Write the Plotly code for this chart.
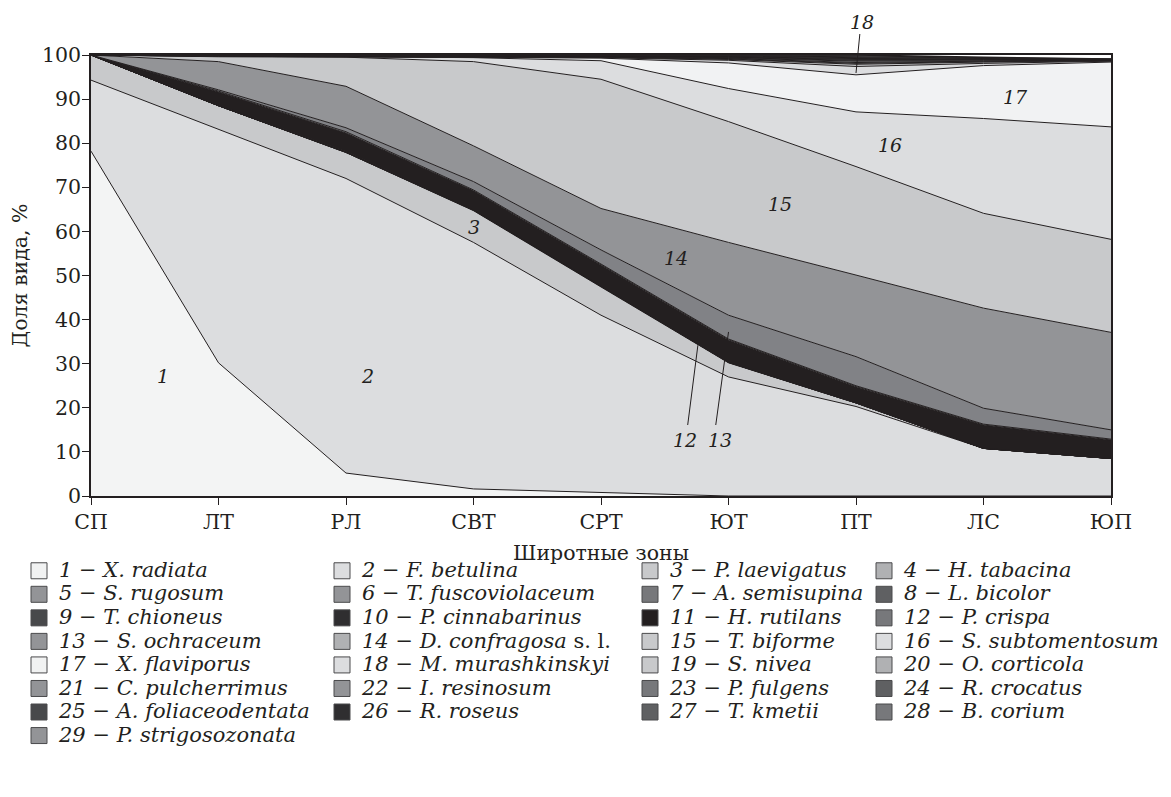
import plotly.graph_objects as go

zones = ["СП", "ЛТ", "РЛ", "СВТ", "СРТ", "ЮТ", "ПТ", "ЛС", "ЮП"]

species = [
    "X. radiata", "F. betulina", "P. laevigatus", "H. tabacina", "S. rugosum",
    "T. fuscoviolaceum", "A. semisupina", "L. bicolor", "T. chioneus",
    "P. cinnabarinus", "H. rutilans", "P. crispa", "S. ochraceum",
    "D. confragosa s. l.", "T. biforme", "S. subtomentosum", "X. flaviporus",
    "M. murashkinskyi", "S. nivea", "O. corticola", "C. pulcherrimus",
    "I. resinosum", "P. fulgens", "R. crocatus", "A. foliaceodentata",
    "R. roseus", "T. kmetii", "B. corium", "P. strigosozonata",
]

# shares (%) of each species by latitudinal zone
s1 = [78.2, 30.2, 5.2, 1.6, 0.8, 0, 0, 0, 0]
s2 = [16.1, 53.0, 66.8, 55.9, 40.2, 27.0, 20.3, 10.8, 8.5]
s3 = [5.7, 5.3, 5.9, 7.2, 6.4, 3.2, 0.8, 0, 0]
s4 = [0, 0, 0, 0.1, 0.1, 0.1, 0, 0, 0]
s5 = [0, 0, 0, 0, 0.1, 0, 0, 0, 0]
s6 = [0, 0, 0.1, 0.1, 0, 0, 0, 0, 0]
s7 = [0, 0, 0, 0, 0, 0.1, 0.1, 0, 0]
s8 = [0, 0, 0, 0, 0, 0, 0, 0, 0]
s9 = [0, 0, 0, 0, 0, 0, 0, 0, 0]
s10 = [0, 0.1, 0.1, 0, 0, 0, 0, 0, 0]
s11 = [0, 3.0, 4.2, 4.3, 4.8, 5.0, 3.6, 5.3, 4.2]
s12 = [0, 0.2, 0.3, 0.2, 0.2, 0.2, 0.2, 0.2, 0.2]
s13 = [0, 0.3, 0.9, 1.9, 3.2, 5.4, 6.6, 3.6, 2.1]
s14 = [0, 6.4, 9.4, 8.1, 9.4, 16.5, 18.5, 22.7, 22.1]
s15 = [0, 1.1, 6.6, 19.1, 29.3, 27.4, 24.6, 21.5, 21.1]
s16 = [0, 0.1, 0.1, 0.9, 4.2, 7.5, 12.4, 21.5, 25.5]
s17 = [0, 0, 0, 0.1, 0.6, 5.8, 8.4, 12.0, 14.7]
s18 = [0, 0, 0, 0, 0.1, 0.6, 1.9, 0.5, 0.2]
s19 = [0, 0.05, 0.05, 0.06, 0.08, 0.2, 0.5, 0.3, 0.05]
s20 = [0, 0.03, 0.04, 0.05, 0.05, 0.1, 0.2, 0.1, 0.05]
s21 = [0, 0.02, 0.03, 0.04, 0.05, 0.1, 0.2, 0.1, 0.05]
s22 = [0, 0.02, 0.04, 0.05, 0.06, 0.1, 0.3, 0.1, 0.05]
s23 = [0, 0.03, 0.04, 0.04, 0.05, 0.1, 0.2, 0.2, 0.05]
s24 = [0, 0.02, 0.03, 0.05, 0.05, 0.1, 0.2, 0.1, 0.05]
s25 = [0, 0.03, 0.04, 0.04, 0.06, 0.1, 0.2, 0.1, 0.05]
s26 = [0, 0.02, 0.03, 0.05, 0.05, 0.1, 0.2, 0.1, 0.05]
s27 = [0, 0.03, 0.04, 0.04, 0.05, 0.1, 0.2, 0.1, 0.05]
s28 = [0, 0.02, 0.03, 0.04, 0.05, 0.1, 0.2, 0.1, 0.05]
s29 = [0, 0.03, 0.03, 0.04, 0.05, 0.1, 0.2, 0.1, 0]

series = [s1, s2, s3, s4, s5, s6, s7, s8, s9, s10, s11, s12, s13, s14, s15,
          s16, s17, s18, s19, s20, s21, s22, s23, s24, s25, s26, s27, s28, s29]

fill_colors = [
    "#f3f4f4", "#dcdddf", "#c8c9cb", "#b0b1b3", "#939497", "#8f9093", "#77787b",
    "#5f6062", "#48494b", "#2f2e30", "#231f20", "#77787b", "#818286", "#939497",
    "#c8c9cb", "#dcdddf", "#f1f2f3", "#dcdddf", "#c8c9cb", "#b0b1b3", "#939497",
    "#939497", "#77787b", "#5f6062", "#48494b", "#2f2e30", "#5f6062", "#77787b",
    "#939497",
]
legend_colors = [
    "#f1f2f2", "#dcdddf", "#c8c9cb", "#b0b1b3", "#939497", "#939497", "#77787b",
    "#5f6062", "#48494b", "#2f2e30", "#231f20", "#77787b", "#939497", "#b0b1b3",
    "#c8c9cb", "#dcdddf", "#f1f2f2", "#dcdddf", "#c8c9cb", "#b0b1b3", "#939497",
    "#939497", "#77787b", "#5f6062", "#48494b", "#2f2e30", "#5f6062", "#77787b",
    "#939497",
]

INK = "#231f20"
SERIF = "DejaVu Serif"

fig = go.Figure()

for i, vals in enumerate(series):
    fig.add_trace(go.Scatter(
        x=zones, y=vals, mode="lines", stackgroup="one",
        line=dict(color=INK, width=1.5 if i == len(series) - 1 else 1),
        fillcolor=fill_colors[i], showlegend=False, hoverinfo="skip",
        name=species[i],
    ))

LEG_TEXT = 'style="font-size:21px"'
legend_names = ["legend", "legend2", "legend3", "legend4"]
for i, name in enumerate(species):
    k = i + 1
    if name.endswith(" s. l."):
        label = f"<span {LEG_TEXT}><i>{k} − {name[:-6]}</i> s. l.</span>"
    else:
        label = f"<span {LEG_TEXT}><i>{k} − {name}</i></span>"
    fig.add_trace(go.Scatter(
        x=[None], y=[None], mode="markers", name=label,
        marker=dict(symbol="square", size=16, color=legend_colors[i],
                    line=dict(color="#4a4a4c", width=1)),
        legend=legend_names[i % 4], hoverinfo="skip",
    ))

# the page adds an 8px body margin; plot area in page pixels: x 91..1111, y 55..496
PAGE_OFF = 8
L, T = 83, 47
W, H = 1020, 441
R = 1171 - L - W
B = 797 - T - H
def px_x(p):
    return (p - PAGE_OFF - L) / W
def px_y(p):
    return (PAGE_OFF + T + H - p) / H

leg_common = dict(
    orientation="v", yanchor="top", xanchor="left", traceorder="normal",
    font=dict(family=SERIF, size=15.8, color=INK),
    bgcolor="rgba(0,0,0,0)", tracegroupgap=0, itemclick=False,
    itemdoubleclick=False,
)
col_x = [19, 322, 630, 864]
legend_layout = {}
for j, ln in enumerate(legend_names):
    legend_layout[ln] = dict(x=px_x(col_x[j]), y=px_y(554), **leg_common)

labels = [
    ("1", 0.565, 27.2), ("2", 2.17, 27.2), ("3", 3.0, 61.0), ("14", 4.59, 54.0),
    ("15", 5.40, 66.2), ("16", 6.27, 79.6), ("17", 7.25, 90.5),
    ("12", 4.66, 12.7), ("13", 4.93, 12.7),
]
annotations = [
    dict(x=x, y=y, xref="x", yref="y", text=f"<i>{t}</i>", showarrow=False,
         xanchor="center", yanchor="middle",
         font=dict(family=SERIF, size=19, color=INK))
    for t, x, y in labels
]
annotations.append(dict(x=6.05, y=px_y(22), xref="x", yref="paper",
                        text="<i>18</i>", showarrow=False,
                        xanchor="center", yanchor="middle",
                        font=dict(family=SERIF, size=19, color=INK)))

pointers = [
    (4.68, 16.1, 4.76, 34.2),
    (4.90, 16.1, 5.0, 37.2),
]
shapes = [
    dict(type="line", xref="x", yref="y", x0=a, y0=b, x1=c, y1=d,
         line=dict(color=INK, width=1))
    for a, b, c, d in pointers
]
shapes.append(dict(type="line", xref="x", yref="paper", x0=6.03, y0=px_y(34),
                   x1=6.0, y1=px_y(73), line=dict(color=INK, width=1)))

fig.update_layout(
    width=1171, height=797,
    margin=dict(l=L, r=R, t=T, b=B, autoexpand=False),
    paper_bgcolor="white", plot_bgcolor="white",
    font=dict(family=SERIF, size=20, color=INK),
    showlegend=True,
    annotations=annotations,
    shapes=shapes,
    **legend_layout,
)
fig.update_xaxes(
    type="category", range=[0, 8], showgrid=False, zeroline=False,
    showline=True, mirror=True, linecolor=INK, linewidth=1.5, ticks="outside",
    ticklen=7, tickcolor=INK, tickfont=dict(family=SERIF, size=20.5, color=INK),
    title=dict(text="Широтные зоны", font=dict(family=SERIF, size=20.5, color=INK),
               standoff=12),
)
fig.update_yaxes(
    range=[0, 100], dtick=10, showgrid=False, zeroline=False,
    showline=True, mirror=True, linecolor=INK, linewidth=1.5, ticks="outside",
    ticklen=7, tickcolor=INK, tickfont=dict(family=SERIF, size=20.5, color=INK),
    ticklabelstandoff=-3,
    title=dict(text="Доля вида, %", font=dict(family=SERIF, size=20.5, color=INK),
               standoff=11),
)

fig.write_html("out.html")
